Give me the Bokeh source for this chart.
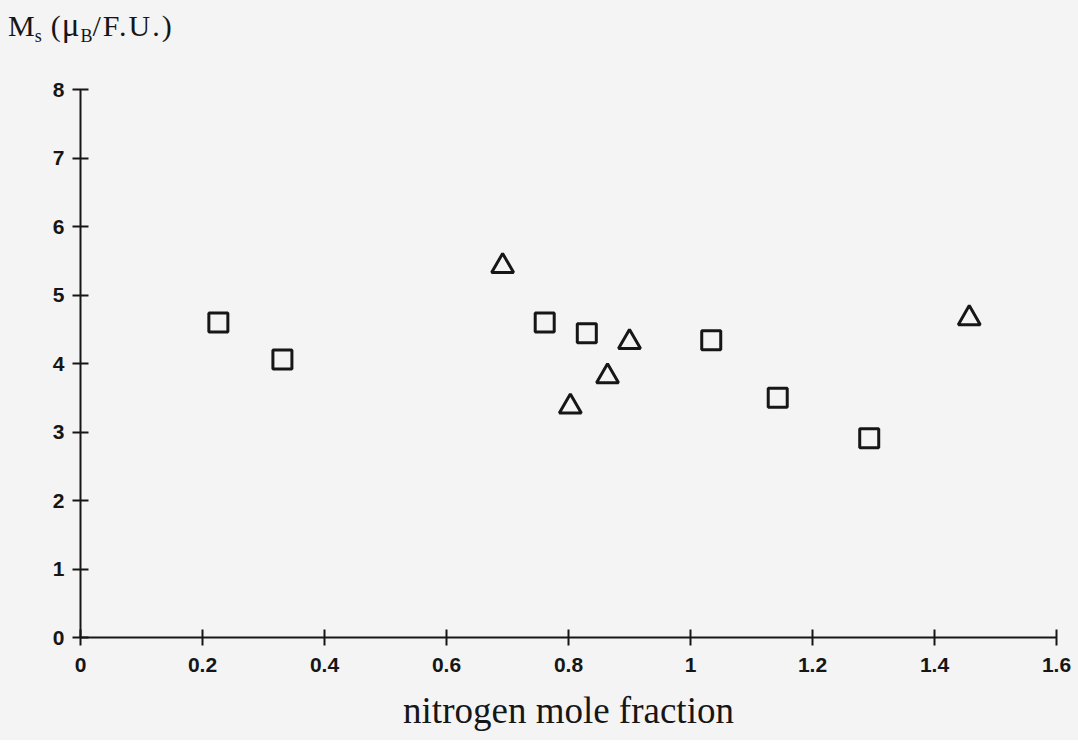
from bokeh.plotting import figure
from bokeh.models import FixedTicker, Range1d, Div
from bokeh.layouts import column
from bokeh.embed import file_html
from bokeh.resources import INLINE

# Data
square_x = [0.226, 0.331, 0.761, 0.830, 1.034, 1.143, 1.293]
square_y = [4.60, 4.06, 4.60, 4.44, 4.34, 3.50, 2.91]
triangle_x = [0.692, 0.803, 0.864, 0.900, 1.457]
triangle_y = [5.42, 3.37, 3.81, 4.31, 4.66]

x_ticks = [0, 0.2, 0.4, 0.6, 0.8, 1.0, 1.2, 1.4, 1.6]
x_tick_labels = ["0", "0.2", "0.4", "0.6", "0.8", "1", "1.2", "1.4", "1.6"]
y_ticks = [0, 1, 2, 3, 4, 5, 6, 7, 8]
y_tick_labels = ["0", "1", "2", "3", "4", "5", "6", "7", "8"]

x_title = "nitrogen mole fraction"

INK = "#161616"
BG = "#f4f4f4"
W = 1078
HEAD = 50
LEFT, RIGHT, TOP, BOTTOM = 80, 22, 89 - HEAD, 103
H = 637 - HEAD + BOTTOM

# Y axis title "Ms (μB/F.U.)" with subscripts, above the axis
sub = "font-size:18px;position:relative;top:6px;"
title_html = (
    f'<div style="font-family:\'Liberation Serif\';font-size:30px;line-height:1;'
    f'color:{INK};margin:9px 0 0 8px;white-space:nowrap;">'
    f'M<span style="{sub}">s</span>'
    f'<span style="margin-left:9px;">(</span>'
    f'<span style="font-size:33px;margin-left:1px;">μ</span>'
    f'<span style="{sub}margin-left:1px;">B</span>'
    f'<span style="letter-spacing:2px;">/F.U.)</span>'
    f'</div>'
)
head = Div(text=title_html, width=W, height=HEAD, margin=(0, 0, 0, 0),
           styles={"background-color": BG})

p = figure(width=W, height=H, output_backend="svg", toolbar_location=None,
           x_range=Range1d(0, 1.6), y_range=Range1d(0, 8),
           min_border_left=LEFT, min_border_right=RIGHT, min_border_top=TOP,
           min_border_bottom=BOTTOM, margin=(0, 0, 0, 0))
p.background_fill_color = BG
p.border_fill_color = BG
p.outline_line_color = None
p.grid.visible = False

for ax in (p.xaxis[0], p.yaxis[0]):
    ax.axis_line_color = INK
    ax.axis_line_width = 2
    ax.major_tick_line_color = INK
    ax.major_tick_line_width = 2
    ax.major_tick_in = 8
    ax.major_tick_out = 8
    ax.minor_tick_line_color = None
    ax.major_label_text_font = "Liberation Sans"
    ax.major_label_text_font_style = "bold"
    ax.major_label_text_font_size = "21px"
    ax.major_label_text_color = INK

p.xaxis.ticker = FixedTicker(ticks=x_ticks)
p.xaxis.major_label_overrides = {t: l for t, l in zip(x_ticks, x_tick_labels)}
p.yaxis.ticker = FixedTicker(ticks=y_ticks)
p.yaxis.major_label_overrides = {t: l for t, l in zip(y_ticks, y_tick_labels)}
p.xaxis.major_label_standoff = 12
p.yaxis.major_label_standoff = 8

p.xaxis.axis_label = x_title
p.xaxis.axis_label_text_font = "Liberation Serif"
p.xaxis.axis_label_text_font_style = "normal"
p.xaxis.axis_label_text_font_size = "37px"
p.xaxis.axis_label_text_color = INK
p.xaxis.axis_label_standoff = 15

p.scatter(square_x, square_y, marker="square", size=19, fill_color=None,
          line_color=INK, line_width=3)
p.scatter(triangle_x, triangle_y, marker="triangle", size=22, fill_color=None,
          line_color=INK, line_width=3)

layout = column(head, p, spacing=0, margin=(0, 0, 0, 0),
                styles={"background-color": BG})
open("out.html", "w").write(file_html(layout, INLINE))
